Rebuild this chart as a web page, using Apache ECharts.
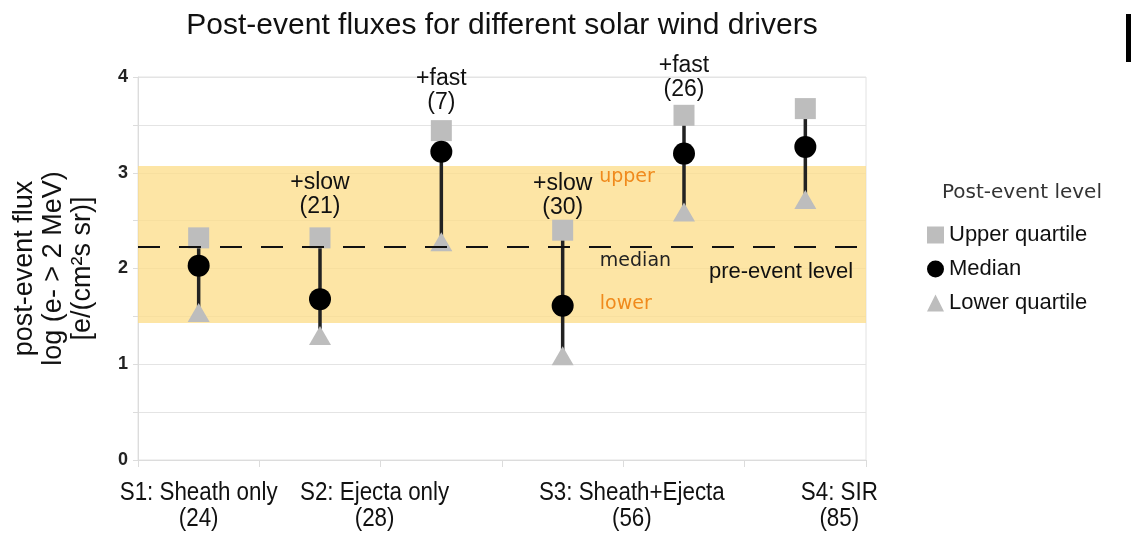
<!DOCTYPE html>
<html lang="en">
<head>
<meta charset="UTF-8">
<title>Post-event fluxes</title>
<script src="https://cdn.jsdelivr.net/npm/echarts@6/dist/echarts.min.js"></script>
</head>
<body style="margin:0;background:#fff">
<div id="main" style="width:1131px;height:534px;"></div>
<script type="text/javascript">
// slot centres on a 0..6 value axis, one per driver subgroup
var slotX = [0.5, 1.5, 2.5, 3.5, 4.5, 5.5];
var upperQ = [2.32, 2.32, 3.44, 2.40, 3.60, 3.67];
var medianV = [2.03, 1.68, 3.22, 1.61, 3.20, 3.27];
var lowerQ = [1.54, 1.30, 2.28, 1.09, 2.59, 2.72];

// pre-event level band
var preLower = 1.43, preMedian = 2.23, preUpper = 3.07;

// group separators and labels under the axis
var separators = [1, 3, 5];
var groupNames = ['S1: Sheath only\n(24)', 'S2: Ejecta only\n(28)', 'S3: Sheath+Ejecta\n(56)', 'S4: SIR\n(85)'];
var groupX = [0.5, 1.95, 4.07, 5.78];

// speed annotations above the bars
var speedText = ['+slow\n(21)', '+fast\n(7)', '+slow\n(30)', '+fast\n(26)'];
var speedPos = [[1.5, 2.77], [2.5, 3.86], [3.5, 2.76], [4.5, 3.99]];

var bandText = ['upper', 'median', 'lower'];
var bandPos = [[4.03, 2.96], [4.1, 2.08], [4.02, 1.63]];

var dom = document.getElementById('main');
var myChart = echarts.init(dom);

var option = {
    animation: false,
    title: {
        text: 'Post-event fluxes for different solar wind drivers',
        left: 497, textAlign: 'center', top: 6,
        textStyle: {fontFamily: 'Liberation Sans', fontSize: 30, fontWeight: 'normal', color: '#111'}
    },
    legend: {
        orient: 'vertical', left: 922, top: 219, itemGap: 12,
        itemWidth: 17, itemHeight: 17,
        data: ['Upper quartile', 'Median', 'Lower quartile'],
        textStyle: {fontFamily: 'Liberation Sans', fontSize: 22, color: '#111'}
    },
    grid: {left: 138, right: 265, top: 77, bottom: 74, outerBoundsMode: 'none',
        show: true, borderColor: '#e2e2e2', borderWidth: 1},
    xAxis: {
        type: 'value', min: 0, max: 6, interval: 1,
        axisLabel: {show: false},
        splitLine: {show: false},
        axisLine: {lineStyle: {color: '#dcdcdc'}},
        axisTick: {show: true, length: 7, lineStyle: {color: '#dcdcdc'}}
    },
    yAxis: {
        type: 'value', min: 0, max: 4, interval: 0.5,
        name: 'post-event flux\nlog (e- > 2 MeV)\n[e/(cm²s sr)]',
        nameLocation: 'middle', nameRotate: 90, nameGap: 41,
        nameTextStyle: {fontFamily: 'Liberation Sans', fontSize: 27, lineHeight: 29, color: '#111'},
        axisLabel: {
            fontFamily: 'Liberation Sans', fontSize: 18, fontWeight: 'bold', color: '#222', margin: 10,
            formatter: function (v) { return v % 1 === 0 ? String(v) : ''; }
        },
        axisLine: {show: true, lineStyle: {color: '#dcdcdc'}},
        axisTick: {show: true, length: 5, lineStyle: {color: '#dcdcdc'}},
        splitLine: {lineStyle: {color: '#e4e4e4'}}
    },
    series: [
        {
            name: 'range', type: 'custom', z: 2,
            encode: {x: 0, y: [1, 2]},
            data: slotX.map(function (x, i) { return [x, upperQ[i], lowerQ[i]]; }),
            renderItem: function (params, api) {
                var x = api.value(0);
                var hi = api.coord([x, api.value(1)]);
                var lo = api.coord([x, api.value(2)]);
                return {
                    type: 'line',
                    shape: {x1: hi[0], y1: hi[1], x2: lo[0], y2: lo[1]},
                    style: {stroke: '#222', lineWidth: 3.5}
                };
            },
            markArea: {
                silent: true,
                itemStyle: {color: 'rgba(252,222,140,0.78)'},
                data: [[{coord: [0, preLower]}, {coord: [6, preUpper]}]]
            },
            markLine: {
                silent: true, symbol: 'none',
                label: {show: false},
                data: [
                    [{coord: [0, preMedian], lineStyle: {type: [22, 19], color: '#111', width: 2}},
                     {coord: [6, preMedian]}]
                ].concat(separators.map(function (s) {
                    return [{coord: [s, -0.09], lineStyle: {type: [2, 2], color: '#999', width: 1}},
                            {coord: [s, 4]}];
                }))
            }
        },
        {
            name: 'Upper quartile', type: 'scatter', z: 3,
            symbol: 'rect', symbolSize: 21,
            itemStyle: {color: '#bdbdbd', opacity: 1},
            data: slotX.map(function (x, i) { return [x, upperQ[i]]; })
        },
        {
            name: 'Lower quartile', type: 'scatter', z: 3,
            symbol: 'triangle', symbolSize: [22, 19],
            itemStyle: {color: '#bdbdbd', opacity: 1},
            data: slotX.map(function (x, i) { return [x, lowerQ[i]]; })
        },
        {
            name: 'Median', type: 'scatter', z: 4,
            symbol: 'circle', symbolSize: 22,
            itemStyle: {color: '#000', opacity: 1},
            data: slotX.map(function (x, i) { return [x, medianV[i]]; })
        }
    ]
};
myChart.setOption(option);

// annotations placed through the axes
function px(pt) { return myChart.convertToPixel({gridIndex: 0}, pt); }
var graphics = [];
groupNames.forEach(function (t, i) {
    var p = px([groupX[i], 0]);
    graphics.push({type: 'text', x: p[0], y: 480, scaleX: 0.86, z: 100, style: {
        text: t, align: 'center', verticalAlign: 'top', lineHeight: 26,
        font: '26px "Liberation Sans", sans-serif', fill: '#111'}});
});
speedText.forEach(function (t, i) {
    var p = px(speedPos[i]);
    graphics.push({type: 'text', x: p[0], y: p[1], z: 100, style: {
        text: t, align: 'center', verticalAlign: 'middle', lineHeight: 24,
        font: '23px "Liberation Sans", sans-serif', fill: '#111'}});
});
bandText.forEach(function (t, i) {
    var p = px(bandPos[i]);
    graphics.push({type: 'text', x: p[0], y: p[1], z: 100, style: {
        text: t, align: 'center', verticalAlign: 'middle',
        font: '19px "DejaVu Sans", sans-serif', fill: i === 1 ? '#222' : '#f08a1c'}});
});
var pe = px([5.3, 1.96]);
graphics.push({type: 'text', x: pe[0], y: pe[1], z: 100, style: {
    text: 'pre-event level', align: 'center', verticalAlign: 'middle',
    font: '22px "Liberation Sans", sans-serif', fill: '#111'}});
graphics.push({type: 'text', x: 942, y: 193, z: 100, style: {
    text: 'Post-event level', align: 'left', verticalAlign: 'middle',
    font: '20px "DejaVu Sans", sans-serif', fill: '#333'}});
graphics.push({type: 'rect', shape: {x: 1126, y: 14, width: 5, height: 48}, z: 100, style: {fill: '#000'}});
myChart.setOption({graphic: graphics});
</script>
</body>
</html>
